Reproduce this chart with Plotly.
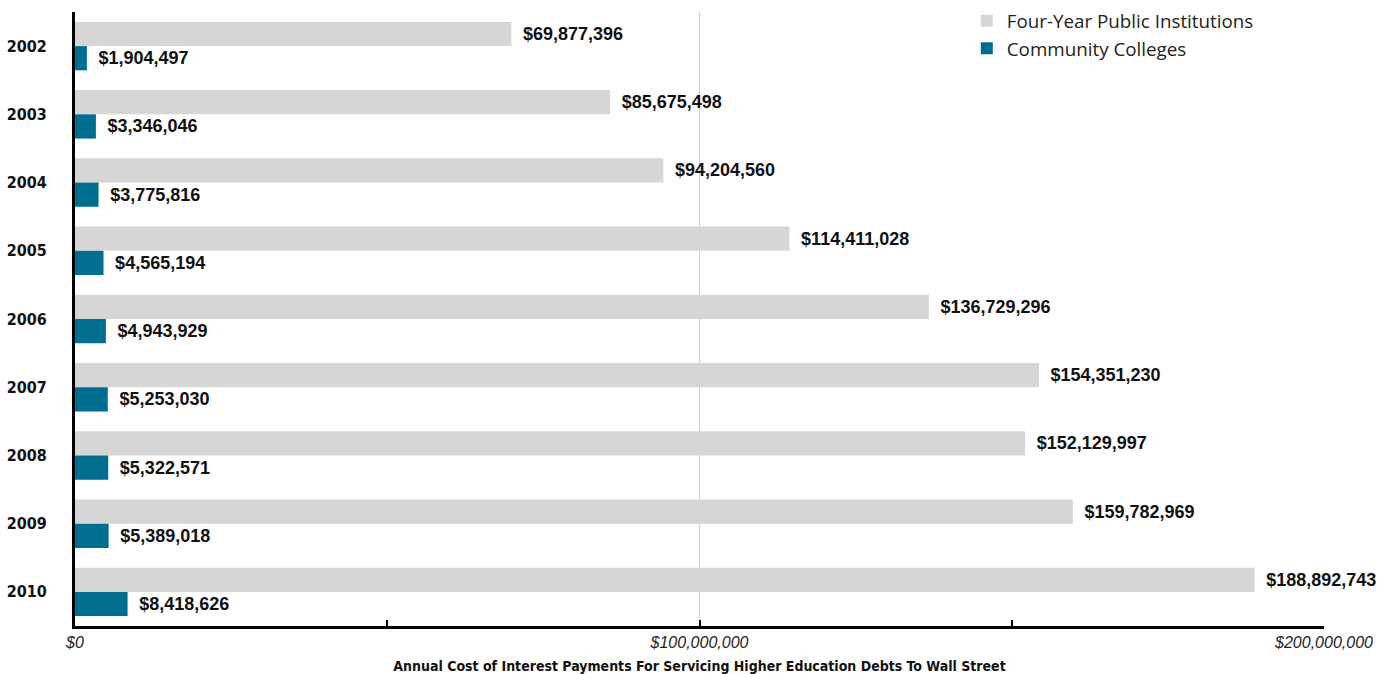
import plotly.graph_objects as go

years = ["2002", "2003", "2004", "2005", "2006", "2007", "2008", "2009", "2010"]
four_year = [69877396, 85675498, 94204560, 114411028, 136729296, 154351230, 152129997, 159782969, 188892743]
community = [1904497, 3346046, 3775816, 4565194, 4943929, 5253030, 5322571, 5389018, 8418626]
tick_vals = [0, 100000000, 200000000]
tick_text = ["$0", "$100,000,000", "$200,000,000"]

def money(v):
    return "\u00a0\u2009${:,}".format(v)

label_font = dict(family="Liberation Sans", size=18, color="#111111", weight="bold")
cond = "DejaVu Sans Condensed, Liberation Sans Narrow, Liberation Sans"

fig = go.Figure()
fig.add_trace(go.Bar(
    y=years, x=four_year, orientation="h", name="Four-Year Public Institutions",
    marker=dict(color="#d6d6d6", line=dict(width=0)),
    text=[money(v) for v in four_year], textposition="outside",
    textfont=label_font, cliponaxis=False,
))
fig.add_trace(go.Bar(
    y=years, x=community, orientation="h", name="Community Colleges",
    marker=dict(color="#006e8e", line=dict(width=0)),
    text=[money(v) for v in community], textposition="outside",
    textfont=label_font, cliponaxis=False,
))

fig.update_layout(
    width=1380, height=674,
    margin=dict(l=75, r=56, t=0, b=48, autoexpand=False),
    plot_bgcolor="white", paper_bgcolor="white",
    barmode="group", bargap=0.29, bargroupgap=0,
    legend=dict(x=0.714, y=0.9968, xanchor="left", yanchor="top",
                font=dict(family="Open Sans", size=18.8, color="#222222"),
                bgcolor="rgba(0,0,0,0)", tracegroupgap=2, itemsizing="constant"),
    xaxis=dict(
        range=[0, 200000000], tickvals=tick_vals, ticktext=tick_text,
        showgrid=True, gridcolor="#d0d0d0", gridwidth=1,
        showline=True, linecolor="black", linewidth=3,
        ticks="inside", ticklen=6, tickwidth=2, tickcolor="black",
        minor=dict(dtick=50000000, ticks="inside", ticklen=6, tickwidth=2, tickcolor="black", showgrid=False),
        tickfont=dict(family="Liberation Sans", size=16, color="#222222", style="italic"),
        title=dict(text="Annual Cost of Interest Payments For Servicing Higher Education Debts To Wall Street",
                   font=dict(family=cond, size=14, color="#111111", weight="bold"),
                   standoff=11),
        zeroline=False, fixedrange=True, automargin=False,
    ),
    yaxis=dict(
        domain=[0, 614 / 626],
        autorange="reversed", showline=True, linecolor="black", linewidth=3,
        showgrid=False, ticks="", ticklabelstandoff=22, automargin=False,
        tickfont=dict(family=cond, size=16, color="#111111", weight="bold"),
        fixedrange=True,
    ),
)

fig.write_html("out.html", config={"displayModeBar": False},
               post_script="document.body.style.margin='0';document.body.style.overflow='hidden';")
